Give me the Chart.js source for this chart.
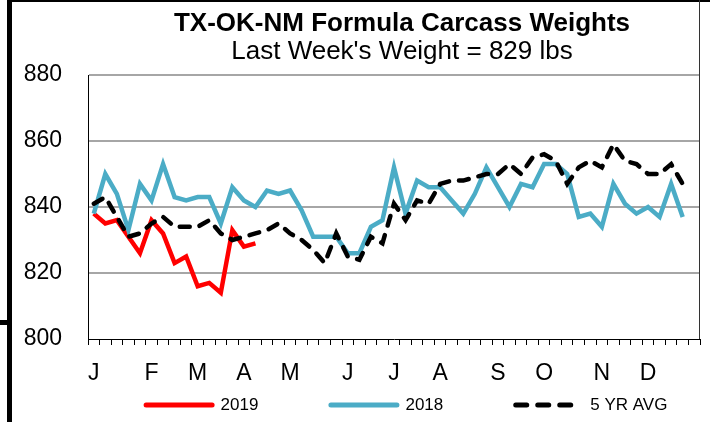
<!DOCTYPE html>
<html>
<head>
	<meta charset="utf-8">
	<title>TX-OK-NM Formula Carcass Weights</title>
	<script src="https://cdn.jsdelivr.net/npm/chart.js@4.4.1/dist/chart.umd.min.js"></script>
	<style>
		html, body { margin: 0; padding: 0; background: #fff; }
	</style>
</head>
<body>
	<div>
		<canvas id="chart" width="710" height="422"></canvas>
	</div>

	<script type="text/javascript">

		// 53 weekly categories, month letters on the axis
		var weeks = [1, 2, 3, 4, 5, 6, 7, 8, 9, 10, 11, 12, 13, 14, 15, 16, 17, 18, 19, 20, 21, 22, 23, 24, 25, 26, 27,
			28, 29, 30, 31, 32, 33, 34, 35, 36, 37, 38, 39, 40, 41, 42, 43, 44, 45, 46, 47, 48, 49, 50, 51, 52, 53];
		var monthTicks = ['J', '', '', '', '', 'F', '', '', '', 'M', '', '', '', 'A', '', '', '', 'M', '', '', '', '',
			'J', '', '', '', 'J', '', '', '', 'A', '', '', '', '', 'S', '', '', '', 'O', '', '', '', '', 'N', '', '', '',
			'D', '', '', '', ''];

		var data2019 = [838, 835, 836, 831, 826, 836, 832, 823, 825, 816, 817, 814, 833, 828, 829];
		var data2018 = [838, 850, 844, 833, 847, 842, 853, 843, 842, 843, 843, 835, 846, 842, 840, 845, 844, 845, 839,
			831, 831, 831, 826, 826, 834, 836, 852, 838, 848, 846, 846, 842, 838, 844, 852, 846, 840, 847, 846, 853,
			853, 850, 837, 838, 834, 847, 841, 838, 840, 837, 847, 837];
		var data5yr = [841, 843, 837, 831, 832, 835, 837, 834, 834, 834, 836, 832, 830, 831, 832, 833, 835, 832, 830,
			827, 823, 832, 825, 824, 831, 829, 841, 836, 842, 841, 847, 848, 848, 849, 850, 850, 853, 850, 855, 856,
			854, 847, 852, 854, 852, 859, 854, 853, 850, 850, 853, 847];

		var yTicks = [800, 820, 840, 860, 880];

		Chart.defaults.font.family = '"Liberation Sans", Arial, sans-serif';
		Chart.defaults.color = '#000';

		// frame lines round the pasted chart
		var framePlugin = {
			id: 'frame',
			beforeDraw: function(chart) {
				var ctx = chart.ctx;
				ctx.save();
				ctx.fillStyle = '#fff';
				ctx.fillRect(0, 0, chart.width, chart.height);
				ctx.fillStyle = '#000';
				ctx.fillRect(7, 0, 5, chart.height);
				ctx.fillRect(0, 320, 7, 5);
				ctx.fillRect(7, 0, chart.width - 7, 2);
				ctx.restore();
			},
			afterDraw: function(chart) {
				var ctx = chart.ctx;
				var a = chart.chartArea;
				ctx.save();
				ctx.strokeStyle = '#333';
				ctx.lineWidth = 1;
				ctx.beginPath();
				ctx.moveTo(Math.round(a.right) - 0.5, 0);
				ctx.lineTo(Math.round(a.right) - 0.5, a.bottom);
				ctx.stroke();
				ctx.restore();
			},
			afterLayout: function(chart) {
				// titles sit a little right of the plot centre
				chart.boxes.forEach(function(b) {
					if (b.options && typeof b.options.text === 'string') {
						b.left += 8;
						b.right += 8;
					}
				});
			}
		};

		// legend drawn in one row under the axis, like the sheet
		var legendPlugin = {
			id: 'rowLegend',
			afterDraw: function(chart) {
				var ctx = chart.ctx;
				var sets = chart.data.datasets;
				ctx.save();
				ctx.font = '17px "Liberation Sans", Arial, sans-serif';
				var widths = sets.map(function(ds) { return 71 + 6 + ctx.measureText(ds.label).width; });
				var total = 70 * (sets.length - 1);
				widths.forEach(function(w) { total += w; });
				var x = 405.5 - total / 2;
				var y = 405;
				sets.forEach(function(ds, i) {
					ctx.beginPath();
					ctx.strokeStyle = ds.borderColor;
					ctx.lineWidth = 5;
					ctx.lineCap = 'round';
					ctx.setLineDash(ds.borderDash ? [11, 11] : []);
					ctx.moveTo(x + 2.5, y);
					ctx.lineTo(x + 68.5, y);
					ctx.stroke();
					ctx.setLineDash([]);
					ctx.fillStyle = '#000';
					ctx.textBaseline = 'middle';
					ctx.textAlign = 'left';
					ctx.fillText(ds.label, x + 77, y);
					x += widths[i] + 70;
				});
				ctx.restore();
			}
		};

		var config = {
			type: 'line',
			data: {
				labels: weeks,
				datasets: [
					{
						label: '2019',
						data: data2019,
						borderColor: '#ff0000',
						backgroundColor: '#ff0000',
						borderWidth: 4.5,
						pointRadius: 0,
						tension: 0,
						fill: false,
						order: 3
					},
					{
						label: '2018',
						data: data2018,
						borderColor: '#4bacc6',
						backgroundColor: '#4bacc6',
						borderWidth: 4.5,
						pointRadius: 0,
						tension: 0,
						fill: false,
						order: 2
					},
					{
						label: '5 YR AVG',
						data: data5yr,
						borderColor: '#000000',
						backgroundColor: '#000000',
						borderWidth: 4.5,
						borderDash: [10, 10],
						borderCapStyle: 'round',
						pointRadius: 0,
						tension: 0,
						fill: false,
						order: 1
					}
				]
			},
			options: {
				responsive: false,
				animation: false,
				devicePixelRatio: 1,
				layout: { padding: { left: 0, right: 10, top: 0, bottom: 0 } },
				plugins: {
					legend: { display: false },
					tooltip: { enabled: false },
					title: {
						display: true,
						fullSize: false,
						text: 'TX-OK-NM Formula Carcass Weights',
						font: { size: 26, weight: 'bold', lineHeight: 1.1 },
						color: '#000',
						padding: { top: 10, bottom: 0 }
					},
					subtitle: {
						display: true,
						fullSize: false,
						text: "Last Week's Weight = 829 lbs",
						font: { size: 26, lineHeight: 1 },
						color: '#000',
						padding: { top: 0, bottom: 10.4 }
					}
				},
				scales: {
					x: {
						type: 'category',
						offset: true,
						afterFit: function(s) { s.height = 83; },
						grid: {
							offset: true,
							drawOnChartArea: false,
							drawTicks: true,
							tickLength: 6,
							color: '#000',
							tickColor: '#000'
						},
						border: { display: true, color: '#000', width: 1 },
						ticks: {
							autoSkip: false,
							maxRotation: 0,
							minRotation: 0,
							padding: 15,
							font: { size: 23 },
							color: '#000',
							callback: function(value, index) { return monthTicks[index]; }
						}
					},
					y: {
						min: yTicks[0],
						max: yTicks[yTicks.length - 1],
						afterFit: function(s) { s.width = 88; },
						afterBuildTicks: function(s) {
							s.ticks = yTicks.map(function(v) { return { value: v }; });
						},
						grid: {
							drawTicks: false,
							lineWidth: 2,
							color: function(c) { return c.tick && c.tick.value === 800 ? 'rgba(0,0,0,0)' : '#a6a6a6'; }
						},
						border: { display: true, color: '#000', width: 1 },
						ticks: {
							padding: 26,
							font: { size: 23 },
							color: '#000'
						}
					}
				}
			},
			plugins: [framePlugin, legendPlugin]
		};

		var ctx = document.getElementById('chart').getContext('2d');
		var chart = new Chart(ctx, config);

	</script>
</body>
</html>
